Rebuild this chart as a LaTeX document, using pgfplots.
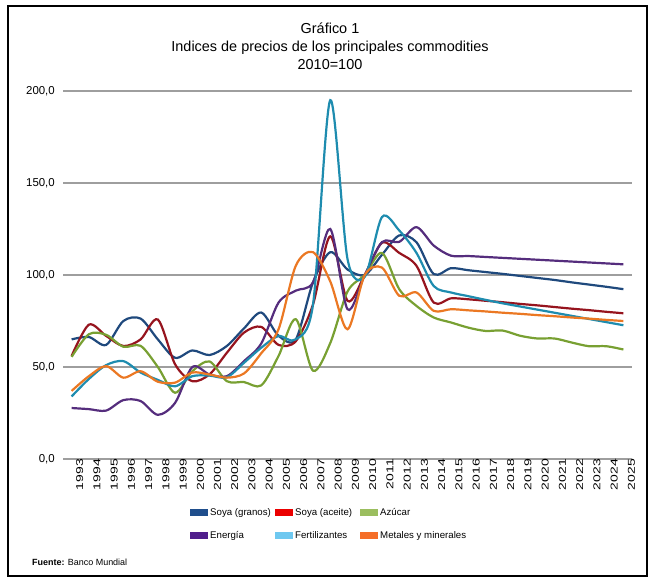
\documentclass[border=0pt]{standalone}
\usepackage{fontspec}
\setmainfont{Liberation Sans}
\usepackage{graphicx}
\usepackage{pgfplots}
\pgfplotsset{compat=1.18}
\usepackage{pgfplotstable}

\definecolor{cGranos}{RGB}{31,73,125}
\definecolor{cAceite}{RGB}{150,20,30}
\definecolor{cAzucar}{RGB}{120,160,50}
\definecolor{cEnergia}{RGB}{85,45,125}
\definecolor{cFert}{RGB}{30,140,175}
\definecolor{cMetal}{RGB}{235,120,35}
\definecolor{lGranos}{RGB}{31,78,140}
\definecolor{lAceite}{RGB}{235,0,0}
\definecolor{lAzucar}{RGB}{155,190,95}
\definecolor{lEnergia}{RGB}{80,30,140}
\definecolor{lFert}{RGB}{110,200,240}
\definecolor{lMetal}{RGB}{245,110,40}

\pgfplotstableread{
year granos aceite azucar energia fert metales
1993 65    56    55.5  27.7  34    37
1994 66.3  73    67.8  27.1  43.5  45
1995 62    66.9  67.5  26.3  51    50.5
1996 75    61.4  61    32    53.2  44.2
1997 76.3  65    61.5  31.5  47    47.7
1998 65    75.8  50    24    43    42
1999 55    51.5  36    30.5  39.5  41.5
2000 59    42.3  47.7  50    45    47
2001 56.5  46    53    45.9  45.3  45.9
2002 61.4  57.7  42.3  45    44.4  44.2
2003 71    68.7  41.8  53.2  52.3  46.5
2004 79.6  71.8  40    62.8  60.5  57.5
2005 67    62    56    85    66.8  70.5
2006 65    64    76    91.5  65    105
2007 96    84    48    96    84    112.4
2008 112.4 121   63    125   195   96.5
2009 103   86    91    81.4  108.7 70.5
2010 100   100   100   100   99    100
2011 111   117.5 112   117.9 131.5 104
2012 121.5 112   92.3  118   124.2 88.7
2013 117.8 105   83.2  126   112   90.5
2014 100.5 85    76.9  116   94    80.5
2015 103.7 87.3  74.2  110.5 90.5  81.4
2016 102.6 86.8  71.4  110.3 88.5  80.8
2017 101.6 86    69.6  109.8 86.5  80.2
2018 100.6 85.2  69.8  109.3 84.6  79.5
2019 99.5  84.3  67    108.8 82.9  78.9
2020 98.4  83.5  65.5  108.3 81.2  78.2
2021 97.3  82.6  65.5  107.8 79.5  77.6
2022 96    81.7  63.3  107.3 77.8  76.9
2023 94.8  80.9  61.3  106.8 76.1  76.3
2024 93.6  80    61.3  106.3 74.4  75.6
2025 92.3  79.2  59.5  105.8 72.7  75
}\data

\begin{document}
\begin{tikzpicture}[x=1bp,y=1bp]
\useasboundingbox (0,0) rectangle (656,583);
\draw[line width=2bp] (8,7) rectangle (647,577);
\node[align=center, font=\fontsize{14.5}{18}\selectfont, inner sep=0pt] at (330,537) {Gráfico 1\\Indices de precios de los principales commodities\\2010=100};
\node[anchor=west, font=\fontsize{9}{11}\selectfont, inner sep=0pt] at (32,21) {\textbf{Fuente:} Banco Mundial};
\begin{axis}[
  at={(63bp,124bp)}, anchor=south west,
  scale only axis, width=569bp, height=368bp,
  xmin=1992.5, xmax=2025.5, ymin=0, ymax=200,
  axis line style={draw=none},
  major tick length=0pt,
  ymajorgrids,
  grid style={draw=black!38, line width=1.1bp},
  ytick={0,50,100,150,200},
  yticklabels={{0,0},{50,0},{100,0},{150,0},{200,0}},
  yticklabel style={font=\fontsize{11.5}{13}\selectfont, inner sep=0pt, anchor=east, xshift=-8bp},
  xtick=data,
  xticklabel={\pgfmathparse{int(round(\tick))}\scalebox{1.4}[1]{\pgfmathresult}},
  xticklabel style={font=\fontsize{10}{12}\selectfont, rotate=90, anchor=east, inner sep=0pt, yshift=-8bp},
  legend columns=3,
  legend style={draw=none, fill=none, at={(axis description cs:0.2232,-0.133)}, anchor=north west,
    font=\fontsize{9.7}{11}\selectfont,
    /tikz/every even column/.append style={column sep=3bp},
    /tikz/every odd column/.append style={column sep=2bp},
    row sep=14bp, inner sep=0pt, nodes={inner sep=0pt, text height=7bp, text depth=2bp}},
  legend cell align=left,
  legend image code/.code={\fill[#1, draw=none] (0bp,-3.2bp) rectangle (18bp,3.2bp);},
  every axis plot/.append style={smooth, tension=0.5, line width=2.2bp},
]
\addplot[cGranos, forget plot] table[x=year,y=granos]{\data};
\addplot[cAceite, forget plot] table[x=year,y=aceite]{\data};
\addplot[cAzucar, forget plot] table[x=year,y=azucar]{\data};
\addplot[cEnergia, forget plot] table[x=year,y=energia]{\data};
\addplot[cFert, forget plot] table[x=year,y=fert]{\data};
\addplot[cMetal, forget plot] table[x=year,y=metales]{\data};
\addlegendimage{lGranos, fill=lGranos}\addlegendentry{\makebox[62bp][l]{Soya (granos)}}
\addlegendimage{lAceite, fill=lAceite}\addlegendentry{\makebox[62bp][l]{Soya (aceite)}}
\addlegendimage{lAzucar, fill=lAzucar}\addlegendentry{\makebox[62bp][l]{Azúcar}}
\addlegendimage{lEnergia, fill=lEnergia}\addlegendentry{\makebox[62bp][l]{Energía}}
\addlegendimage{lFert, fill=lFert}\addlegendentry{\makebox[62bp][l]{Fertilizantes}}
\addlegendimage{lMetal, fill=lMetal}\addlegendentry{\makebox[62bp][l]{Metales y minerales}}
\end{axis}
\end{tikzpicture}
\end{document}
